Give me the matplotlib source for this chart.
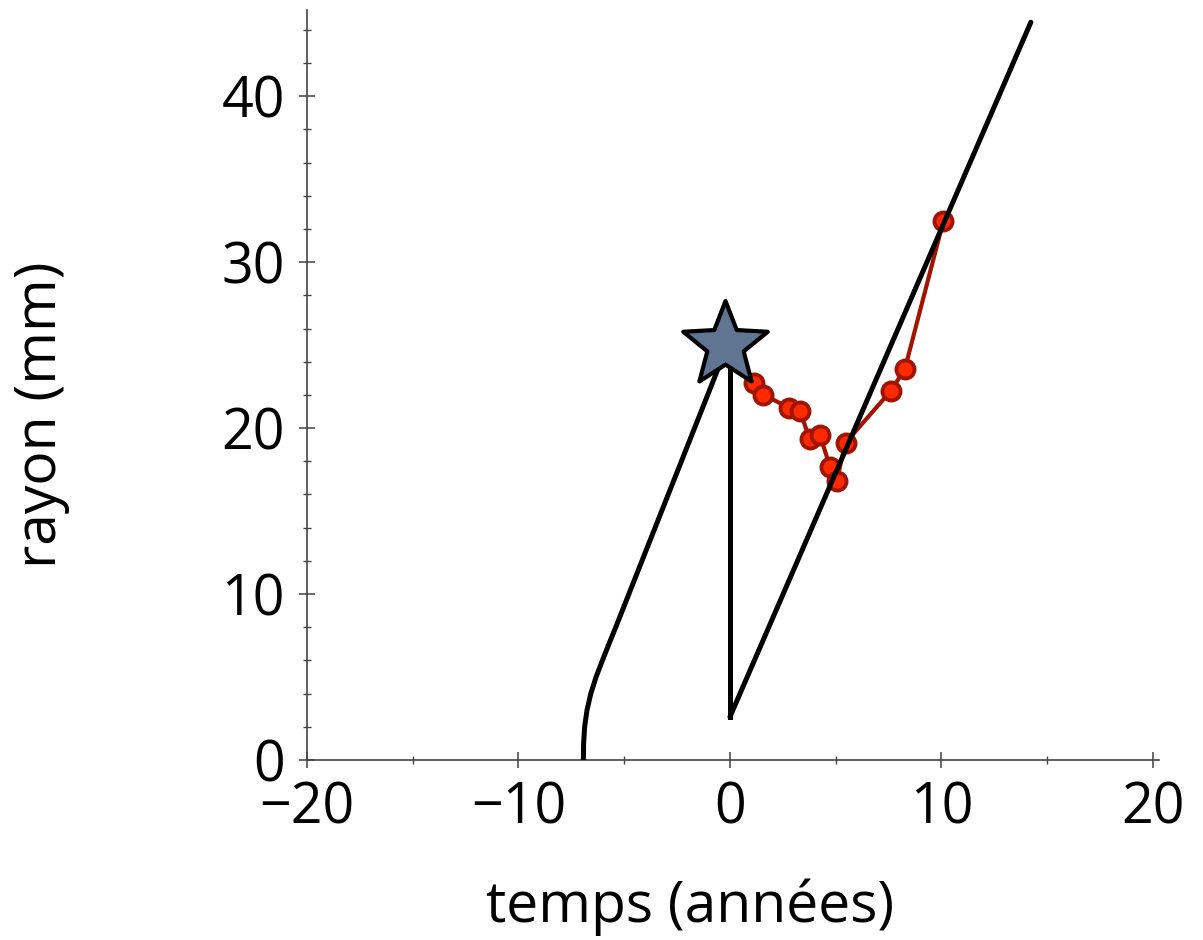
import matplotlib
matplotlib.use('Agg')
import numpy as np
import matplotlib.pyplot as plt
from matplotlib.path import Path
from matplotlib.ticker import MultipleLocator

plt.rcParams['font.family'] = ['Open Sans', 'DejaVu Sans']

# growth curve before the event (time in years, radius in mm)
pre_t = [-6.93, -6.92, -6.87, -6.76, -6.58, -6.33, -6.03, -5.72, -5.40,
         -4.78, -4.16, -3.26, -2.14, -0.96, -0.12]
pre_r = [0.0, 1.0, 2.0, 3.0, 4.0, 5.0, 6.0, 7.0, 8.0,
         10.0, 12.0, 14.9, 18.5, 22.3, 25.0]

# drop at t=0 and regrowth
drop_t = [0.0, 0.0]
drop_r = [25.0, 2.6]
regrow_t = [0.0, 14.23]
regrow_r = [2.6, 44.46]

# event marker
star_t = [-0.24]
star_r = [25.0]

# measured radii
obs_t = [1.13, 1.58, 2.80, 3.31, 3.78, 4.26, 4.73, 5.04, 5.47, 7.60, 8.27, 10.09]
obs_r = [22.69, 22.02, 21.22, 21.02, 19.32, 19.58, 17.67, 16.81, 19.12, 22.23, 23.55, 32.47]

# slightly fatter star than matplotlib's '*'
ang = np.pi / 2 + np.arange(10) * np.pi / 5
rad = np.where(np.arange(10) % 2 == 0, 1.0, 0.43)
star_path = Path(np.column_stack([rad * np.cos(ang), rad * np.sin(ang)]).tolist()
                 + [[0, 1]], closed=True)

fig = plt.figure(figsize=(12.03, 9.40), dpi=100)
ax = fig.add_axes([0.2552, 0.1915, 0.7084, 0.7979])

ax.plot(obs_t, obs_r, '-o', color='#a01400', lw=3, ms=13,
        mfc='#ff2a00', mec='#a01400', mew=2.8, zorder=2)
ax.plot(pre_t, pre_r, color='black', lw=3.6, zorder=3, solid_capstyle='round')
ax.plot(drop_t, drop_r, color='black', lw=3.6, zorder=3)
ax.plot(regrow_t, regrow_r, color='black', lw=3.6, zorder=3, solid_capstyle='round')
ax.plot(star_t, star_r, marker=star_path, ms=64, mfc='#5f7591', mec='black',
        mew=3, ls='none', zorder=4, clip_on=False)

ax.set_xlim(-20, 20.3)
ax.set_ylim(0, 45.2)
ax.spines['top'].set_visible(False)
ax.spines['right'].set_visible(False)
for s in ['left', 'bottom']:
    ax.spines[s].set_color('#444444')
    ax.spines[s].set_linewidth(1.2)

ax.xaxis.set_major_locator(MultipleLocator(10))
ax.xaxis.set_minor_locator(MultipleLocator(5))
ax.yaxis.set_major_locator(MultipleLocator(10))
ax.yaxis.set_minor_locator(MultipleLocator(2))
ax.tick_params(which='major', direction='inout', length=12, width=1.1,
               color='#444444', labelsize=40)
ax.tick_params(which='minor', direction='inout', length=6, width=1.0,
               color='#444444')
ax.tick_params(axis='x', which='major', pad=9)
ax.tick_params(axis='y', which='major', pad=10)

ax.set_xticks([-20, -10, 0, 10, 20])
ax.set_xticklabels(['\u221220', '\u221210', '0', '10', '20'])

ax.set_xlabel('temps (ann\u00e9es)', fontsize=41)
ax.set_ylabel('rayon (mm)', fontsize=41)
ax.xaxis.set_label_coords((690 - 307) / 852.2, -0.158)
ax.yaxis.set_label_coords(-0.278, (760 - 415) / 750.0)

fig.savefig('out.png', dpi=100)
